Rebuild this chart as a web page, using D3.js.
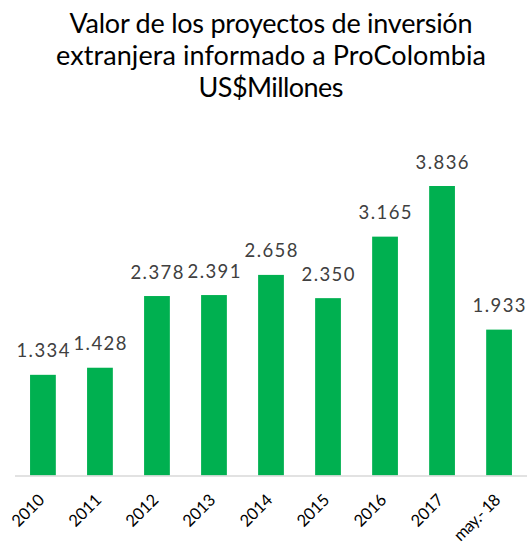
<!DOCTYPE html>
<html><head><meta charset="utf-8">
<script src="https://cdn.jsdelivr.net/npm/d3@7"></script>
<style>body{margin:0;background:#fff}</style>
</head><body>
<script>
const categories = ["2010","2011","2012","2013","2014","2015","2016","2017","may.- 18"];
const values = [1334,1428,2378,2391,2658,2350,3165,3836,1933];
const titleLines = ["Valor de los proyectos de inversión","extranjera informado a ProColombia","US$Millones"];
const titleWidths = [403, 430, 145];

const W = 531, H = 548;
const svg = d3.select("body").append("svg").attr("width", W).attr("height", H);
const fmt = d3.formatLocale({decimal: ",", thousands: ".", grouping: [3], currency: ["$",""]}).format(",d");

const x = d3.scaleBand().domain(categories).range([15, 527]).paddingInner(0.548).paddingOuter(0.264);
const y0 = 475.5, pxPerUnit = (475.5 - 186) / 3836;
const y = d3.scaleLinear().domain([0, 4500]).range([y0, y0 - 4500 * pxPerUnit]);

const font = "'Lato', 'Open Sans', sans-serif";

function fit(sel, target, anchor) {
  sel.each(function(d, i) {
    const t = typeof target === "function" ? target(d, i) : target;
    const len = this.getComputedTextLength();
    const n = this.textContent.length;
    const ls = (t - len) / Math.max(1, n - 1);
    const s = d3.select(this).attr("letter-spacing", ls);
    const shift = anchor === "middle" ? ls / 2 : ls;
    s.attr("dx", shift);
  });
}

svg.append("g").selectAll("text").data(titleLines).join("text")
  .attr("x", 271).attr("y", (d,i) => 33 + i*32)
  .attr("text-anchor", "middle").attr("font-family", font).attr("font-size", 27)
  .attr("fill", "#000").text(d => d)
  .call(fit, (d,i) => titleWidths[i], "middle");

svg.append("g").selectAll("rect").data(values).join("rect")
  .attr("x", (d,i) => x(categories[i])).attr("width", x.bandwidth())
  .attr("y", d => y(d)).attr("height", d => y(0) - y(d)).attr("fill", "#00b050");

svg.append("line").attr("x1", 15).attr("x2", 527).attr("y1", 476).attr("y2", 476)
  .attr("stroke", "#d9d9d9").attr("stroke-width", 1.5);

svg.append("g").selectAll("text").data(values).join("text")
  .attr("x", (d,i) => x(categories[i]) + x.bandwidth()/2).attr("y", d => y(d) - 17.5)
  .attr("text-anchor", "middle").attr("font-family", font).attr("font-size", 18.5)
  .attr("fill", "#404040").text(d => fmt(d))
  .call(fit, 53, "middle");

svg.append("g").selectAll("text").data(categories).join("text")
  .attr("transform", d => `translate(${x(d) + x.bandwidth()/2 + 2.5},${501}) rotate(-45)`)
  .attr("text-anchor", "end").attr("font-family", font).attr("font-size", 16.5)
  .attr("fill", "#000").text(d => d)
  .call(fit, d => d.length > 4 ? 58 : 38, "end");
</script>
</body></html>
